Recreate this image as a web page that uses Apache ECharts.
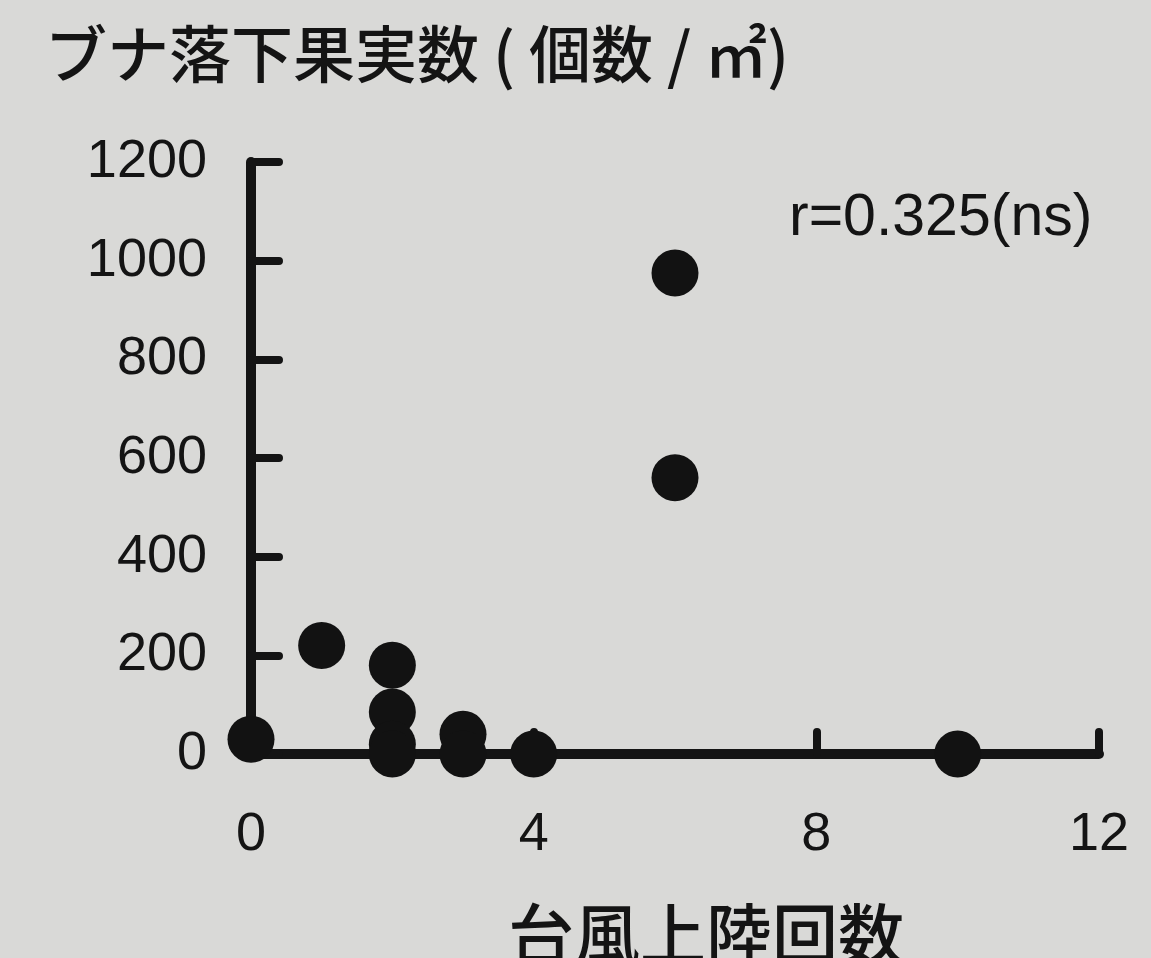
<!DOCTYPE html>
<html>
<head>
<meta charset="utf-8">
<script src="https://cdn.jsdelivr.net/npm/echarts@6/dist/echarts.min.js"></script>
<style>
html,body{margin:0;padding:0;background:#d9d9d7;}
#c{width:1151px;height:958px;}
</style>
</head>
<body>
<div id="c"></div>
<script>
// Data
const typhoonLandings = [0, 1, 2, 2, 2, 2, 3, 3, 4, 6, 6, 10];
const fallenFruits    = [30, 220, 180, 85, 20, 0, 40, 0, 0, 975, 560, 0];
const xTicks = [0, 4, 8, 12];
const yTicks = [0, 200, 400, 600, 800, 1000, 1200];
const titleText = 'ブナ落下果実数 ( 個数 / ㎡)';
const xName = '台風上陸回数';
const corrText = 'r=0.325(ns)';

const ink = '#141414';
const numFont = '"Liberation Sans", Arial, sans-serif';
const jpFont = '"Noto Sans CJK JP", sans-serif';

const chart = echarts.init(document.getElementById('c'));
chart.setOption({
  backgroundColor: '#d9d9d7',
  animation: false,
  title: {
    text: titleText,
    left: 40,
    top: 18,
    textStyle: {fontFamily: jpFont, fontSize: 62, fontWeight: 500, color: ink}
  },
  graphic: [{
    type: 'text',
    left: 789,
    top: 189,
    style: {text: corrText, font: '59px ' + numFont, fill: ink}
  }],
  grid: {left: 251, right: 52, top: 162, bottom: 204, containLabel: false, outerBoundsMode: 'none'},
  xAxis: {
    type: 'value',
    min: xTicks[0], max: xTicks[xTicks.length - 1], interval: 4,
    name: xName,
    nameLocation: 'middle',
    nameGap: 147,
    nameTextStyle: {fontFamily: jpFont, fontSize: 66, fontWeight: 500, color: ink, padding: [0, 0, 0, 62]},
    axisLine: {show: true, onZero: false, lineStyle: {color: ink, width: 10, cap: 'round'}},
    axisTick: {show: true, inside: true, length: 22, lineStyle: {color: ink, width: 8, cap: 'round'}},
    axisLabel: {fontFamily: numFont, fontSize: 54, color: ink, margin: 54},
    splitLine: {show: false}
  },
  yAxis: {
    type: 'value',
    min: yTicks[0], max: yTicks[yTicks.length - 1], interval: 200,
    axisLine: {show: true, onZero: false, lineStyle: {color: ink, width: 10, cap: 'round'}},
    axisTick: {show: true, inside: true, length: 28, lineStyle: {color: ink, width: 8, cap: 'round'}},
    axisLabel: {fontFamily: numFont, fontSize: 54, color: ink, margin: 44, formatter: v => String(v)},
    splitLine: {show: false}
  },
  series: [{
    type: 'scatter',
    symbol: 'circle',
    symbolSize: 47,
    itemStyle: {color: '#121212', opacity: 1},
    z: 5,
    data: typhoonLandings.map((x, i) => [x, fallenFruits[i]])
  }]
});
</script>
</body>
</html>
